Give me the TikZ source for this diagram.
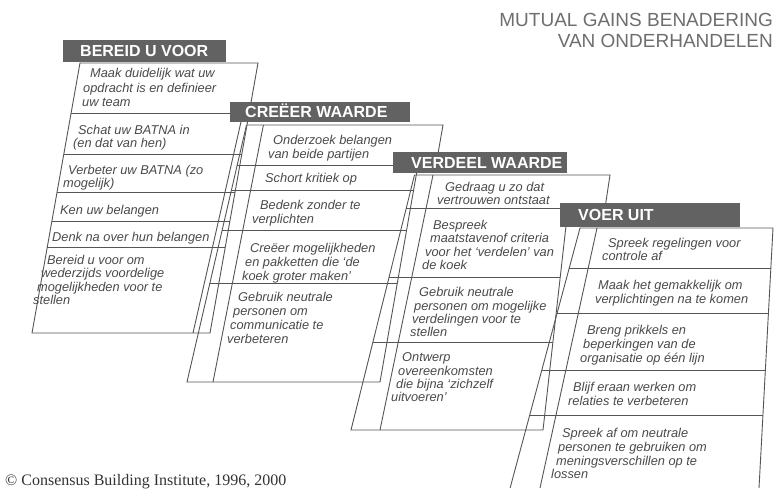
\documentclass[tikz,border=0pt]{standalone}
\usepackage{fontspec}
\setmainfont{Liberation Sans}
\newfontfamily\serifcr{Liberation Serif}
\definecolor{ink}{HTML}{4A4A4A}
\definecolor{edge}{HTML}{555555}
\definecolor{hdr}{HTML}{626262}
\definecolor{ttl}{HTML}{6E6E6E}
\tikzset{
 ct/.style={anchor=base west, inner sep=0pt, text=ink, font=\fontsize{12.8}{14}\selectfont\itshape},
 hd/.style={fill=hdr, draw=none},
 ht/.style={anchor=base west, inner sep=0pt, text=white, font=\fontsize{16}{18}\selectfont\bfseries},
 ln/.style={draw=edge, line width=0.9pt, line join=miter},
}
\newcommand\cardline[4]{\node[ct] (#1) at (#2,#3) {#4};}
\begin{document}
\begin{tikzpicture}[x=1pt,y=-1pt]
\fill[white] (0,0) rectangle (775,488);
\useasboundingbox (0,0) rectangle (775,488);

% ---------- stack 1 ----------
\draw[ln] (80,63) -- (258,63) -- (210,333) -- (32,333) -- cycle;
\draw[ln] (243,113) -- (193,333);
\draw[ln] (71.1,113) -- (249.1,113);
\draw[ln] (64.0,154) -- (241.8,154);
\draw[ln] (57.1,192) -- (235.1,192);
\draw[ln] (51.9,221) -- (229.9,221);
\draw[ln] (47.3,247) -- (225.3,247);

% ---------- stack 2 ----------
\draw[ln] (246.5,125) -- (443,125) -- (436,165);
\draw[ln] (246.5,125) -- (187,382) -- (380,382) -- (418,165);
\draw[ln] (263.4,125) -- (213,382);
\draw[ln] (237.3,165) -- (436,165);
\draw[ln] (231.5,190) -- (413.6,190);
\draw[ln] (222.2,230) -- (406.6,230);
\draw[ln] (209.9,283) -- (397.4,283);

% ---------- stack 3 ----------
\draw[ln] (414.5,175) -- (610,175) -- (605,208);
\draw[ln] (414.5,175) -- (351,430) -- (543,430) -- (568,208);
\draw[ln] (433,175) -- (380,430);
\draw[ln] (406.3,208) -- (605,208);
\draw[ln] (389.1,277) -- (560.2,277);
\draw[ln] (372.9,342) -- (552.9,342);

% ---------- stack 4 ----------
\draw[ln] (510.1,488) -- (580,228) -- (773,228) -- (759,488);
\draw[ln] (597,228) -- (540,488);
\draw[ln] (569.2,268) -- (770.8,268);
\draw[ln] (557.1,313) -- (768.4,313);
\draw[ln] (541.8,370) -- (765.3,370);
\draw[ln] (529.7,415) -- (762.9,415);

% ---------- headers ----------
\fill[hd] (63,40) rectangle (226,62);
\node[ht] (h1) at (80,56.7) {BEREID U VOOR};
\fill[hd] (230,102) rectangle (410,122);
\node[ht] (h2) at (245,117.7) {CREËER WAARDE};
\fill[hd] (393,152) rectangle (567,173);
\node[ht] (h3) at (411,168.2) {VERDEEL WAARDE};
\fill[hd] (560,203) rectangle (740,227);
\node[ht] (h4) at (578,220.7) {VOER UIT};

% ---------- card texts stack 1 ----------
\cardline{a1}{90}{77}{Maak duidelijk wat uw}
\cardline{a2}{83}{92}{opdracht is en definieer}
\cardline{a3}{82}{106}{uw team}
\cardline{a4}{78}{134}{Schat uw BATNA in}
\cardline{a5}{73}{147}{(en dat van hen)}
\cardline{a6}{68}{174}{Verbeter uw BATNA (zo}
\cardline{a7}{63}{187}{mogelijk)}
\cardline{a8}{60}{214}{Ken uw belangen}
\cardline{a9}{52}{241}{Denk na over hun belangen}
\cardline{a10}{47}{264}{Bereid u voor om}
\cardline{a11}{41}{277}{wederzijds voordelige}
\cardline{a12}{37}{291}{mogelijkheden voor te}
\cardline{a13}{33}{304}{stellen}

% ---------- card texts stack 2 ----------
\cardline{b1}{273}{144}{Onderzoek belangen}
\cardline{b2}{268}{158}{van beide partijen}
\cardline{b3}{265}{182}{Schort kritiek op}
\cardline{b4}{260}{209}{Bedenk zonder te}
\cardline{b5}{252}{223}{verplichten}
\cardline{b6}{250}{252}{Creëer mogelijkheden}
\cardline{b7}{245}{266}{en pakketten die ‘de}
\cardline{b8}{242}{280}{koek groter maken’}
\cardline{b9}{238}{301}{Gebruik neutrale}
\cardline{b10}{233}{315}{personen om}
\cardline{b11}{230}{329}{communicatie te}
\cardline{b12}{227}{343}{verbeteren}

% ---------- card texts stack 3 ----------
\cardline{c1}{445}{191}{Gedraag u zo dat}
\cardline{c2}{437}{204}{vertrouwen ontstaat}
\cardline{c3}{433}{229}{Bespreek}
\cardline{c4}{430}{242}{maatstavenof criteria}
\cardline{c5}{425}{256}{voor het ‘verdelen’ van}
\cardline{c6}{422}{269}{de koek}
\cardline{c7}{419}{296}{Gebruik neutrale}
\cardline{c8}{414}{310}{personen om mogelijke}
\cardline{c9}{412}{323}{verdelingen voor te}
\cardline{c10}{410}{336}{stellen}
\cardline{c11}{402}{361}{Ontwerp}
\cardline{c12}{398}{375}{overeenkomsten}
\cardline{c13}{396}{388}{die bijna ‘zichzelf}
\cardline{c14}{391}{401}{uitvoeren’}

% ---------- card texts stack 4 ----------
\cardline{d1}{608}{247}{Spreek regelingen voor}
\cardline{d2}{602}{260}{controle af}
\cardline{d3}{598}{289}{Maak het gemakkelijk om}
\cardline{d4}{595}{303}{verplichtingen na te komen}
\cardline{d5}{587}{334}{Breng prikkels en}
\cardline{d6}{583}{348}{beperkingen van de}
\cardline{d7}{580}{362}{organisatie op één lijn}
\cardline{d8}{573}{391}{Blijf eraan werken om}
\cardline{d9}{568}{405}{relaties te verbeteren}
\cardline{d10}{562}{437}{Spreek af om neutrale}
\cardline{d11}{558}{451}{personen te gebruiken om}
\cardline{d12}{556}{465}{meningsverschillen op te}
\cardline{d13}{551}{478}{lossen}

% ---------- title and credit ----------
\node[anchor=base east, inner sep=0pt, text=ttl, font=\fontsize{19}{22}\selectfont] (t1) at (773,26) {MUTUAL GAINS BENADERING};
\node[anchor=base east, inner sep=0pt, text=ttl, font=\fontsize{19}{22}\selectfont] (t2) at (773,47) {VAN ONDERHANDELEN};
\node[anchor=base west, inner sep=0pt, text=black!80, font=\serifcr\fontsize{16}{18}\selectfont] (cr) at (5,485) {© Consensus Building Institute, 1996, 2000};
\end{tikzpicture}
\end{document}
